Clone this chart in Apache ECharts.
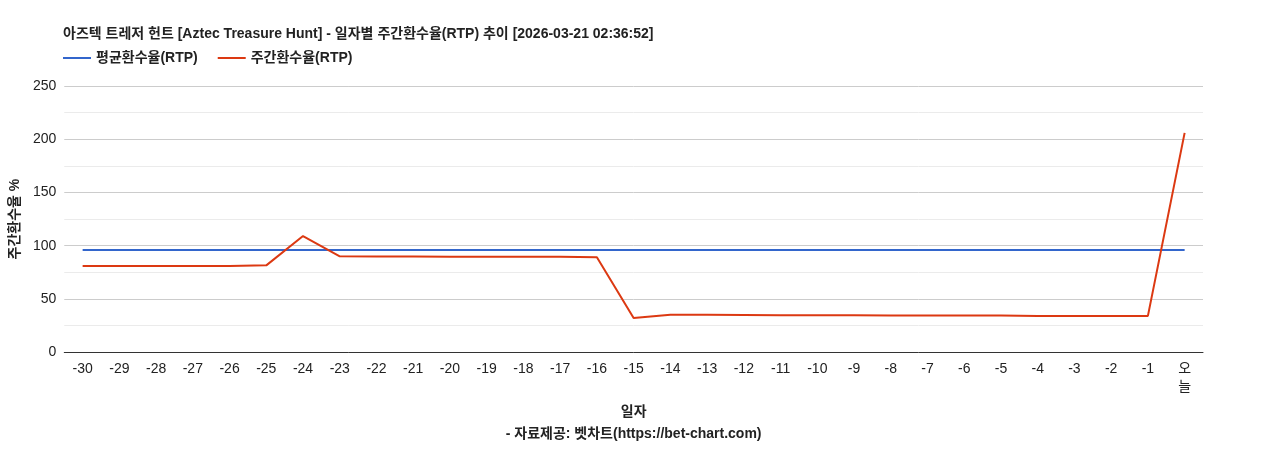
<!DOCTYPE html>
<html><head><meta charset="utf-8">
<script src="https://cdn.jsdelivr.net/npm/echarts@6/dist/echarts.min.js"></script>
<style>html,body{margin:0;padding:0;background:#fff}#c{width:1268px;height:450px}</style>
</head><body><div id="c"></div>
<script>
const categories = ['-30','-29','-28','-27','-26','-25','-24','-23','-22','-21','-20','-19','-18','-17','-16','-15','-14','-13','-12','-11','-10','-9','-8','-7','-6','-5','-4','-3','-2','-1','오\n늘'];
const avgRTP = [96,96,96,96,96,96,96,96,96,96,96,96,96,96,96,96,96,96,96,96,96,96,96,96,96,96,96,96,96,96,96];
const weeklyRTP = [81,81,81,81,81,81.5,109,90,89.8,89.7,89.6,89.6,89.6,89.5,89.2,32,35,35,34.8,34.7,34.7,34.7,34.3,34.3,34.3,34.3,34,34,34,34,206];
const yTicks = [0,50,100,150,200,250];
const chart = echarts.init(document.getElementById('c'));
const font = '"Liberation Sans", Arial, "Noto Sans CJK KR", sans-serif';
chart.setOption({
  animation:false,
  textStyle:{fontFamily:font},
  title:{text:'아즈텍 트레저 헌트 [Aztec Treasure Hunt] - 일자별 주간환수율(RTP) 추이 [2026-03-21 02:36:52]',left:58,top:22,textStyle:{fontSize:14,fontWeight:'bold',color:'#222',fontFamily:font}},
  legend:{left:58,top:46,itemWidth:28,itemHeight:2,icon:'rect',itemGap:20,textStyle:{fontSize:14,fontWeight:'bold',color:'#222'},data:['평균환수율(RTP)','주간환수율(RTP)']},
  grid:{left:63,right:65,top:86,bottom:74},
  xAxis:{type:'category',data:categories,boundaryGap:true,name:'일자\n- 자료제공: 벳차트(https://bet-chart.com)',nameLocation:'middle',nameGap:48,
    nameTextStyle:{fontSize:14,fontWeight:'bold',color:'#222',lineHeight:22},
    axisLine:{lineStyle:{color:'#333'}},axisTick:{show:false},axisLabel:{color:'#222',fontSize:14,interval:0,lineHeight:18}},
  yAxis:{type:'value',min:yTicks[0],max:yTicks[yTicks.length-1],interval:50,name:'주간환수율 %',nameLocation:'middle',nameGap:36,
    nameTextStyle:{fontSize:14,fontWeight:'bold',color:'#222'},
    axisLabel:{color:'#222',fontSize:14},axisLine:{show:false},axisTick:{show:false},
    splitLine:{lineStyle:{color:'#ccc'}},minorTick:{show:false,splitNumber:2},minorSplitLine:{show:true,lineStyle:{color:'#ebebeb'}}},
  series:[
    {name:'평균환수율(RTP)',type:'line',data:avgRTP,symbol:'none',lineStyle:{color:'#3366cc',width:2},itemStyle:{color:'#3366cc'}},
    {name:'주간환수율(RTP)',type:'line',data:weeklyRTP,symbol:'none',lineStyle:{color:'#dc3912',width:2},itemStyle:{color:'#dc3912'}}
  ]
});
</script></body></html>
